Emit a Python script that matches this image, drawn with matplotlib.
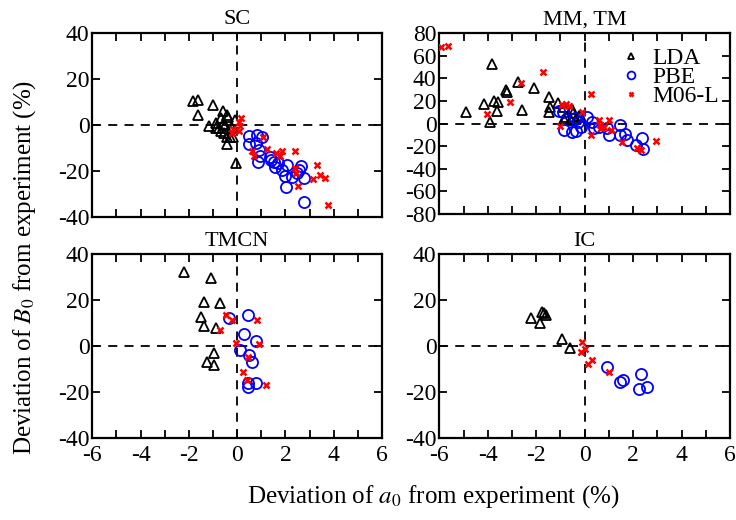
import matplotlib
matplotlib.use("Agg")
import matplotlib.pyplot as plt
from matplotlib.ticker import MultipleLocator

plt.rcParams['font.family'] = ['Liberation Serif', 'DejaVu Serif']
plt.rcParams['mathtext.fontset'] = 'stix'
plt.rcParams['axes.unicode_minus'] = False

# (x = deviation of a0 %, y = deviation of B0 %)
sc_lda_x = [-1.82, -1.64, -1.61, -0.99, -1.16, -0.86, -0.58, -0.65, -0.44, -0.37, -0.10, -0.74,
            -0.65, -0.55, -0.44, -0.30, -0.17, -0.23, -0.44, -0.06, -0.86, -0.51, -0.60]
sc_lda_y = [10.2, 10.9, 4.4, 8.7, -0.7, 0.7, 5.8, 2.9, 4.4, 3.3, 2.2, -1.5,
            -2.9, -3.6, -5.1, -5.4, -5.4, -1.5, -8.4, -16.7, -1.5, 0.0, 0.4]
sc_pbe_x = [0.48, 0.84, 1.01, 0.50, 0.80, 0.91, 0.94, 0.87, 1.35, 1.42, 1.52, 1.70,
            1.56, 1.86, 2.07, 2.00, 2.28, 2.46, 2.57, 2.66, 2.77, 2.04, 2.76]
sc_pbe_y = [-4.7, -4.4, -5.4, -8.3, -7.7, -10.9, -13.5, -16.0, -14.1, -15.3, -16.3, -16.7,
            -18.2, -19.7, -17.5, -22.3, -22.6, -21.1, -19.7, -17.9, -23.3, -26.9, -33.5]
sc_m06_x = [0.18, 0.08, -0.17, 0.07, -0.23, 1.08, 0.60, 0.69, 1.24, 1.63, 1.84, 2.39,
            1.77, 2.39, 2.42, 2.52, 3.31, 3.14, 3.45, 3.63, 3.77, 0.11]
sc_m06_y = [2.9, 1.0, -1.7, -2.5, -3.6, -5.5, -11.6, -13.5, -10.5, -12.4, -11.2, -11.6,
            -13.5, -18.9, -21.1, -26.6, -17.5, -23.7, -21.8, -23.0, -34.9, -0.4]

mm_lda_x = [-4.91, -4.16, -3.91, -3.84, -3.74, -3.63, -3.58, -3.26, -3.22, -2.74, -2.57, -2.09,
            -1.47, -1.43, -1.47, -1.09, -0.85, -0.78, -0.85, -0.54, -0.47, -0.37, -0.23, -0.14, -0.58]
mm_lda_y = [10.4, 17.2, 1.5, 52.4, 19.9, 11.0, 19.3, 29.6, 28.1, 37.0, 11.9, 31.1,
            23.7, 14.8, 10.4, 18.4, 14.8, 5.9, 4.4, 13.3, 8.9, 4.4, 6.8, 5.9, 3.0]
mm_pbe_x = [-1.06, -0.88, -0.85, -0.51, -0.34, -0.40, -0.28, 0.11, 0.32, 0.39, 0.59, 0.94,
            1.02, 1.44, 1.46, 1.65, 1.73, 2.11, 2.38, 2.42, -0.17]
mm_pbe_y = [11.0, 9.8, -5.9, -7.4, -6.8, 5.0, 1.5, 5.9, 0.9, -3.9, -3.0, -4.4,
            -9.8, -1.5, -10.4, -8.9, -14.8, -19.3, -12.7, -22.2, -3.0]
mm_m06_x = [-5.94, -5.64, -4.05, -3.08, -2.64, -1.71, -1.02, -0.92, -0.78, -0.65, -0.10, 0.25,
            0.25, 0.59, 0.63, 0.69, 0.80, 1.00, 1.07, 1.55, 2.17, 2.34, 2.93]
mm_m06_y = [68.1, 69.0, 8.0, 18.7, 36.1, 45.3, -2.1, 16.3, 16.9, 15.7, 9.8, 25.8,
            -9.8, 3.0, -1.5, -4.4, -3.0, 3.0, -5.9, -16.3, -21.6, -23.7, -15.7]

tm_lda_x = [-2.19, -1.10, -1.38, -0.69, -1.48, -1.37, -0.86, -0.97, -1.24, -0.97]
tm_lda_y = [32.1, 29.5, 19.4, 18.7, 12.8, 9.0, 7.8, -2.9, -6.9, -8.1]
tm_pbe_x = [-0.34, 0.43, 0.29, 0.80, 0.11, 0.50, 0.62, 0.43, 0.46, 0.80]
tm_pbe_y = [12.3, 13.5, 5.4, 2.5, -1.4, -3.8, -6.8, -16.1, -17.8, -16.1]
tm_m06_x = [-0.47, -0.23, -0.69, -0.06, 0.84, 0.90, 0.46, 0.25, 0.39, 1.21]
tm_m06_y = [13.7, 11.4, 7.1, 1.4, 11.6, 1.0, -4.5, -11.3, -14.5, -16.6]

ic_lda_x = [-2.20, -1.75, -1.84, -1.61, -1.68, -0.92, -0.61]
ic_lda_y = [12.3, 15.1, 10.1, 13.7, 14.3, 3.2, -0.9]
ic_pbe_x = [0.94, 1.44, 1.58, 2.24, 2.34, 2.59]
ic_pbe_y = [-8.8, -15.6, -14.6, -18.5, -12.0, -17.5]
ic_m06_x = [-0.10, 0.01, -0.14, 0.15, 0.29, 1.00]
ic_m06_y = [1.7, -1.2, -2.3, -7.7, -5.8, -11.3]

titles = ['SC', 'MM, TM', 'TMCN', 'IC']
ylims = [(-40, 40), (-80, 80), (-40, 40), (-40, 40)]
panels = [
    (sc_lda_x, sc_lda_y, sc_pbe_x, sc_pbe_y, sc_m06_x, sc_m06_y),
    (mm_lda_x, mm_lda_y, mm_pbe_x, mm_pbe_y, mm_m06_x, mm_m06_y),
    (tm_lda_x, tm_lda_y, tm_pbe_x, tm_pbe_y, tm_m06_x, tm_m06_y),
    (ic_lda_x, ic_lda_y, ic_pbe_x, ic_pbe_y, ic_m06_x, ic_m06_y),
]
# axes boxes [left, bottom, width, height] in figure fraction
boxes = [
    [0.1254, 0.583, 0.3936, 0.354],
    [0.5969, 0.589, 0.3950, 0.347],
    [0.1254, 0.157, 0.3936, 0.354],
    [0.5969, 0.157, 0.3950, 0.354],
]

fig = plt.figure(figsize=(7.36, 5.2), dpi=100)

for i, (data, box) in enumerate(zip(panels, boxes)):
    ax = fig.add_axes(box)
    lx, ly, px, py, mx, my = data
    ax.axhline(0, color='black', ls=(0, (5, 4)), lw=1.3, zorder=1)
    ax.axvline(0, color='black', ls=(0, (5, 4)), lw=1.3, zorder=1)
    ax.plot(lx, ly, ls='none', marker='^', ms=7, mfc='none', mec='black', mew=1.3, label='LDA', zorder=3)
    ax.plot(px, py, ls='none', marker='o', ms=8, mfc='none', mec='blue', mew=1.3, label='PBE', zorder=3)
    ax.plot(mx, my, ls='none', marker='x', ms=5, mec='red', mew=1.8, label='M06-L', zorder=4)

    ax.set_xlim(-6, 6)
    ax.set_ylim(*ylims[i])
    ax.xaxis.set_major_locator(MultipleLocator(2))
    ax.xaxis.set_minor_locator(MultipleLocator(1))
    ax.yaxis.set_major_locator(MultipleLocator(20))
    ax.tick_params(which='both', direction='in', top=True, right=True, length=6, width=1.3,
                   labelsize=17)
    ax.tick_params(axis='y', pad=2)
    ax.tick_params(axis='x', pad=5)
    if i < 2:
        ax.tick_params(axis='x', labelbottom=False)
    for sp in ax.spines.values():
        sp.set_linewidth(1.6)
    ax.set_title(titles[i], fontsize=16, pad=6)
    if i == 1:
        ax.legend(loc='upper right', frameon=False, fontsize=17, handletextpad=0.4,
                  borderaxespad=0.2, labelspacing=-0.1, handlelength=1.0,
                  markerscale=0.7, bbox_to_anchor=(1.01, 1.0))

fig.text(0.588, 0.045, 'Deviation of $a_0$ from experiment (%)', ha='center', va='center', fontsize=18)
fig.text(0.033, 0.485, 'Deviation of $B_0$ from experiment (%)', ha='center', va='center',
         rotation=90, fontsize=18)

fig.savefig('out.png', dpi=100)
